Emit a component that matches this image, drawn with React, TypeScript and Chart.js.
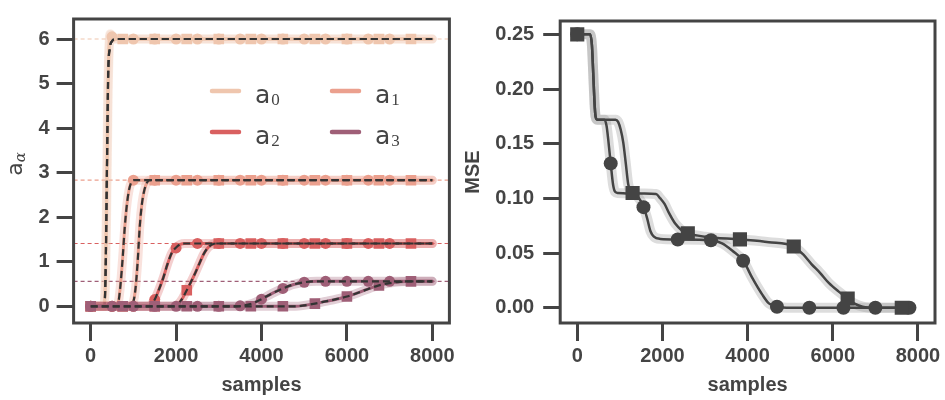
import { useEffect, useRef } from 'react';
import { Chart, registerables } from 'chart.js';

Chart.register(...registerables);

const INK = '#444444';
const X_MIN = -400;
const X_MAX = 8400;

// tick labels
const xTicks = [0, 2000, 4000, 6000, 8000];
const aTicks = [0, 1, 2, 3, 4, 5, 6];
const mseTicks = [0, 0.05, 0.1, 0.15, 0.2, 0.25];

// left panel: learned coefficients a_alpha against samples
const coefNames = ['0', '1', '2', '3'];
const coefColors = ['#efc6ae', '#eba08e', '#d96060', '#9f5f77'];
const coefTargets = [6.0, 2.83, 1.41, 0.56];

const circleSamples = [0, 500, 1000, 1500, 2000, 2500, 3000, 3500, 4000, 4500, 5000, 5500, 6000, 6500, 7000];
const squareSamples = [0, 750, 1500, 2250, 3000, 3750, 4500, 5250, 6000, 6750, 7500];

// run drawn with circle markers
const a0Circle = [[0, 0], [300, 0], [340, 0.6], [370, 2.5], [400, 4.8], [430, 5.9], [460, 6.12], [500, 6.05], [560, 6.0], [8000, 6.0]];
const a1Circle = [[0, 0], [600, 0], [650, 0.1], [700, 0.5], [750, 1.1], [800, 1.8], [850, 2.3], [900, 2.62], [950, 2.78], [1000, 2.83], [8000, 2.83]];
const a2Circle = [[0, 0], [1350, 0], [1450, 0.08], [1500, 0.15], [1600, 0.38], [1700, 0.64], [1800, 0.95], [1900, 1.2], [2000, 1.32], [2100, 1.39], [2200, 1.41], [8000, 1.41]];
const a3Circle = [[0, 0], [3400, 0], [3600, 0.02], [3800, 0.07], [4000, 0.16], [4250, 0.29], [4500, 0.4], [4750, 0.49], [5000, 0.54], [5300, 0.56], [8000, 0.56]];

// run drawn with square markers
const a0Square = [[0, 0], [310, 0], [350, 0.6], [380, 2.5], [410, 4.8], [440, 5.9], [470, 6.1], [510, 6.04], [570, 6.0], [8000, 6.0]];
const a1Square = [[0, 0], [950, 0], [1000, 0.1], [1050, 0.4], [1100, 1.0], [1150, 1.8], [1200, 2.3], [1260, 2.62], [1320, 2.78], [1380, 2.83], [8000, 2.83]];
const a2Square = [[0, 0], [1950, 0], [2050, 0.05], [2150, 0.18], [2250, 0.36], [2350, 0.55], [2450, 0.75], [2550, 0.97], [2650, 1.18], [2750, 1.32], [2850, 1.39], [2950, 1.41], [8000, 1.41]];
const a3Square = [[0, 0], [4800, 0], [5000, 0.02], [5250, 0.06], [5500, 0.11], [5750, 0.16], [6000, 0.22], [6250, 0.3], [6500, 0.39], [6750, 0.47], [7000, 0.52], [7250, 0.55], [7500, 0.56], [8000, 0.56]];

// theory curve for a0 (the dashed black one, no overshoot)
const a0Theory = [[0, 0], [320, 0], [350, 0.8], [380, 3], [410, 5.2], [450, 5.8], [500, 5.95], [580, 6.0], [8000, 6.0]];

const a0CircleMarks = [0, 6.05, 6, 6, 6, 6, 6, 6, 6, 6, 6, 6, 6, 6, 6];
const a1CircleMarks = [0, 0, 2.83, 2.83, 2.83, 2.83, 2.83, 2.83, 2.83, 2.83, 2.83, 2.83, 2.83, 2.83, 2.83];
const a2CircleMarks = [0, 0, 0, 0.15, 1.31, 1.41, 1.41, 1.41, 1.41, 1.41, 1.41, 1.41, 1.41, 1.41, 1.41];
const a3CircleMarks = [0, 0, 0, 0, 0, 0, 0, 0.01, 0.16, 0.4, 0.54, 0.56, 0.56, 0.56, 0.56];

const a0SquareMarks = [0, 6, 6, 6, 6, 6, 6, 6, 6, 6, 6];
const a1SquareMarks = [0, 0, 2.83, 2.83, 2.83, 2.83, 2.83, 2.83, 2.83, 2.83, 2.83];
const a2SquareMarks = [0, 0, 0, 0.36, 1.41, 1.41, 1.41, 1.41, 1.41, 1.41, 1.41];
const a3SquareMarks = [0, 0, 0, 0, 0, 0, 0, 0.06, 0.22, 0.47, 0.56];

// right panel: MSE against samples
const mseCircle = [[0, 0.25], [300, 0.25], [345, 0.24], [375, 0.215], [405, 0.188], [430, 0.175], [470, 0.172], [640, 0.172], [690, 0.166], [730, 0.153], [786, 0.132], [840, 0.113], [890, 0.106], [950, 0.105], [1350, 0.104], [1430, 0.101], [1500, 0.097], [1560, 0.092], [1640, 0.082], [1720, 0.07], [1800, 0.065], [1950, 0.063], [2360, 0.0625], [3140, 0.0617], [3400, 0.059], [3650, 0.052], [3900, 0.043], [4100, 0.028], [4345, 0.012], [4500, 0.004], [4700, 0.001], [5000, 0], [7800, 0]];
const mseSquare = [[0, 0.25], [300, 0.25], [345, 0.24], [375, 0.215], [405, 0.188], [430, 0.175], [470, 0.172], [900, 0.172], [960, 0.17], [1020, 0.163], [1081, 0.151], [1140, 0.132], [1197, 0.113], [1250, 0.107], [1300, 0.105], [1850, 0.104], [1950, 0.1], [2050, 0.095], [2150, 0.087], [2300, 0.077], [2450, 0.071], [2600, 0.068], [3000, 0.065], [3820, 0.0625], [4500, 0.06], [5084, 0.056], [5300, 0.049], [5500, 0.04], [5700, 0.032], [5900, 0.023], [6133, 0.015], [6350, 0.0085], [6500, 0.004], [6700, 0.001], [7000, 0], [7800, 0]];

const mseCircleSamples = [0, 786, 1555, 2360, 3140, 3895, 4690, 5450, 6250, 7000, 7800];
const mseCircleValues = [0.25, 0.132, 0.092, 0.0625, 0.0617, 0.043, 0.001, 0, 0, 0, 0];
const mseSquareSamples = [0, 1300, 2596, 3820, 5084, 6350, 7620];
const mseSquareValues = [0.25, 0.105, 0.068, 0.0625, 0.056, 0.0085, 0];

const pts = (pairs: number[][]) => pairs.map(([x, y]) => ({ x, y }));
const zip = (xs: number[], ys: number[]) => xs.map((x, i) => ({ x, y: ys[i] }));
const fade = (hex: string, a: number) => {
  const n = parseInt(hex.slice(1), 16);
  return `rgba(${n >> 16},${(n >> 8) & 255},${n & 255},${a})`;
};

const line = (data: any[], color: string, width: number, extra: any = {}) => ({
  type: 'line',
  data,
  borderColor: color,
  borderWidth: width,
  pointRadius: 0,
  pointHoverRadius: 0,
  fill: false,
  cubicInterpolationMode: 'monotone',
  borderCapStyle: 'round',
  borderJoinStyle: 'round',
  ...extra,
});

const marks = (data: any[], color: string, style: string, radius: number) => ({
  type: 'line',
  data,
  showLine: false,
  pointStyle: style,
  pointRadius: radius,
  pointHoverRadius: radius,
  pointBackgroundColor: color,
  pointBorderColor: color,
  pointBorderWidth: 0,
});

// later entries are painted on top
const stack = (list: any[]) => list.map((d, i) => ({ ...d, order: -i }));

const tickFont = { family: '"Liberation Sans", Arial, sans-serif', size: 20, weight: 'bold' as const };

const frame = {
  id: 'frame',
  afterDraw(chart: any) {
    const { ctx, chartArea: a } = chart;
    ctx.save();
    ctx.strokeStyle = INK;
    ctx.lineWidth = 3;
    ctx.strokeRect(a.left, a.top, a.right - a.left, a.bottom - a.top);
    ctx.restore();
  },
};

const coefLegend = {
  id: 'coefLegend',
  afterDraw(chart: any) {
    const ctx = chart.ctx;
    ctx.save();
    coefNames.forEach((name, i) => {
      const x = 212 + (i % 2) * 120;
      const y = 91 + Math.floor(i / 2) * 41;
      ctx.strokeStyle = coefColors[i];
      ctx.lineWidth = 4.5;
      ctx.lineCap = 'round';
      ctx.beginPath();
      ctx.moveTo(x, y);
      ctx.lineTo(x + 27, y);
      ctx.stroke();
      ctx.fillStyle = INK;
      ctx.textBaseline = 'alphabetic';
      ctx.textAlign = 'left';
      ctx.font = '25px "DejaVu Sans", sans-serif';
      ctx.fillText('a', x + 43, y + 12);
      const w = ctx.measureText('a').width;
      ctx.font = '17px "Liberation Serif", "DejaVu Serif", serif';
      ctx.fillText(name, x + 44 + w, y + 14);
    });
    ctx.restore();
  },
};

const alphaLabel = {
  id: 'alphaLabel',
  afterDraw(chart: any) {
    const ctx = chart.ctx;
    ctx.save();
    ctx.translate(16, 164);
    ctx.rotate(-Math.PI / 2);
    ctx.fillStyle = INK;
    ctx.textBaseline = 'alphabetic';
    ctx.font = '22px "DejaVu Sans", sans-serif';
    const wa = ctx.measureText('a').width;
    ctx.font = 'italic 15px "DejaVu Serif", serif';
    const wb = ctx.measureText('α').width;
    const x0 = -(wa + wb) / 2;
    ctx.font = '22px "DejaVu Sans", sans-serif';
    ctx.fillText('a', x0, 6);
    ctx.font = 'italic 15px "DejaVu Serif", serif';
    ctx.fillText('α', x0 + wa, 9);
    ctx.restore();
  },
};

const fixTicks = (values: number[]) => (s: any) => {
  s.ticks = values.map((value) => ({ value }));
};

const tickGrid = (len: number) => ({ drawOnChartArea: false, drawTicks: true, tickLength: len, tickWidth: 3, tickColor: INK });

const xAxis = () => ({
  type: 'linear',
  min: X_MIN,
  max: X_MAX,
  afterFit: (s: any) => { s.height = 77; },
  afterBuildTicks: fixTicks(xTicks),
  border: { display: false },
  grid: tickGrid(18),
  ticks: { padding: 3, color: INK, font: tickFont, maxRotation: 0, autoSkip: false, callback: (v: number) => String(v) },
  title: { display: true, text: 'samples', color: INK, font: tickFont, padding: { top: 0, bottom: 3 } },
});

export default function App() {
  const leftRef = useRef<HTMLCanvasElement>(null);
  const rightRef = useRef<HTMLCanvasElement>(null);

  useEffect(() => {
    const circleCurves = [a0Circle, a1Circle, a2Circle, a3Circle];
    const squareCurves = [a0Square, a1Square, a2Square, a3Square];
    const circleMarks = [a0CircleMarks, a1CircleMarks, a2CircleMarks, a3CircleMarks];
    const squareMarks = [a0SquareMarks, a1SquareMarks, a2SquareMarks, a3SquareMarks];

    const leftSets: any[] = [];
    coefTargets.forEach((t, k) => {
      leftSets.push(line([{ x: X_MIN, y: t }, { x: X_MAX, y: t }], coefColors[k], 1.2, { borderDash: [4, 3], cubicInterpolationMode: 'default', borderCapStyle: 'butt' }));
    });
    coefColors.forEach((color, k) => {
      leftSets.push(line(pts(circleCurves[k]), fade(color, 0.3), 9));
      leftSets.push(line(pts(circleCurves[k]), color, 3));
      leftSets.push(marks(zip(circleSamples, circleMarks[k]), color, 'circle', 5.5));
      leftSets.push(line(pts(squareCurves[k]), fade(color, 0.3), 9));
      leftSets.push(line(pts(squareCurves[k]), color, 3));
      leftSets.push(marks(zip(squareSamples, squareMarks[k]), color, 'rect', 7.5));
      const dashA = k === 0 ? a0Theory : circleCurves[k];
      const dashB = k === 0 ? a0Theory : squareCurves[k];
      leftSets.push(line(pts(dashA), '#333333', 2.2, { borderDash: [7, 4], borderCapStyle: 'butt' }));
      leftSets.push(line(pts(dashB), '#333333', 2.2, { borderDash: [7, 4], borderCapStyle: 'butt' }));
    });

    const left = new Chart(leftRef.current!, {
      type: 'line',
      data: { datasets: stack(leftSets) },
      options: {
        responsive: false,
        maintainAspectRatio: false,
        animation: false,
        events: [],
        layout: { padding: { left: 0, right: 20.6, top: 5, bottom: 0 } },
        plugins: { legend: { display: false }, tooltip: { enabled: false } },
        scales: {
          x: xAxis(),
          y: {
            type: 'linear',
            min: -0.375,
            max: 6.449,
            afterFit: (s: any) => { s.width = 73.6; },
            afterBuildTicks: fixTicks(aTicks),
            border: { display: false },
            grid: tickGrid(17),
            ticks: { padding: 7, color: INK, font: tickFont, callback: (v: number) => String(v) },
          },
        },
      } as any,
      plugins: [frame, coefLegend, alphaLabel],
    } as any);

    const rightSets: any[] = [
      line(pts(mseCircle), 'rgba(150,150,150,0.32)', 10),
      line(pts(mseSquare), 'rgba(150,150,150,0.32)', 10),
      line(pts(mseCircle), INK, 2.5),
      marks(zip(mseCircleSamples, mseCircleValues), INK, 'circle', 7),
      line(pts(mseSquare), INK, 2.5),
      marks(zip(mseSquareSamples, mseSquareValues), INK, 'rect', 10),
    ];

    const right = new Chart(rightRef.current!, {
      type: 'line',
      data: { datasets: stack(rightSets) },
      options: {
        responsive: false,
        maintainAspectRatio: false,
        animation: false,
        events: [],
        layout: { padding: { left: 0, right: 9, top: 5, bottom: 0 } },
        plugins: { legend: { display: false }, tooltip: { enabled: false } },
        scales: {
          x: xAxis(),
          y: {
            type: 'linear',
            min: -0.0139,
            max: 0.2622,
            afterFit: (s: any) => { s.width = 105.2; },
            afterBuildTicks: fixTicks(mseTicks),
            border: { display: false },
            grid: tickGrid(17),
            ticks: { padding: 9, color: INK, font: tickFont, callback: (v: number) => v.toFixed(2) },
            title: { display: true, text: 'MSE', color: INK, font: tickFont, padding: { top: 6.5, bottom: 0 } },
          },
        },
      } as any,
      plugins: [frame],
    } as any);

    return () => {
      left.destroy();
      right.destroy();
    };
  }, []);

  return (
    <div style={{ position: 'absolute', left: 0, top: 0, width: 945, height: 400, background: '#ffffff' }}>
      <canvas ref={leftRef} width={470} height={400} style={{ position: 'absolute', left: 0, top: 0, width: 470, height: 400 }} />
      <canvas ref={rightRef} width={490} height={400} style={{ position: 'absolute', left: 455, top: 0, width: 490, height: 400 }} />
    </div>
  );
}
